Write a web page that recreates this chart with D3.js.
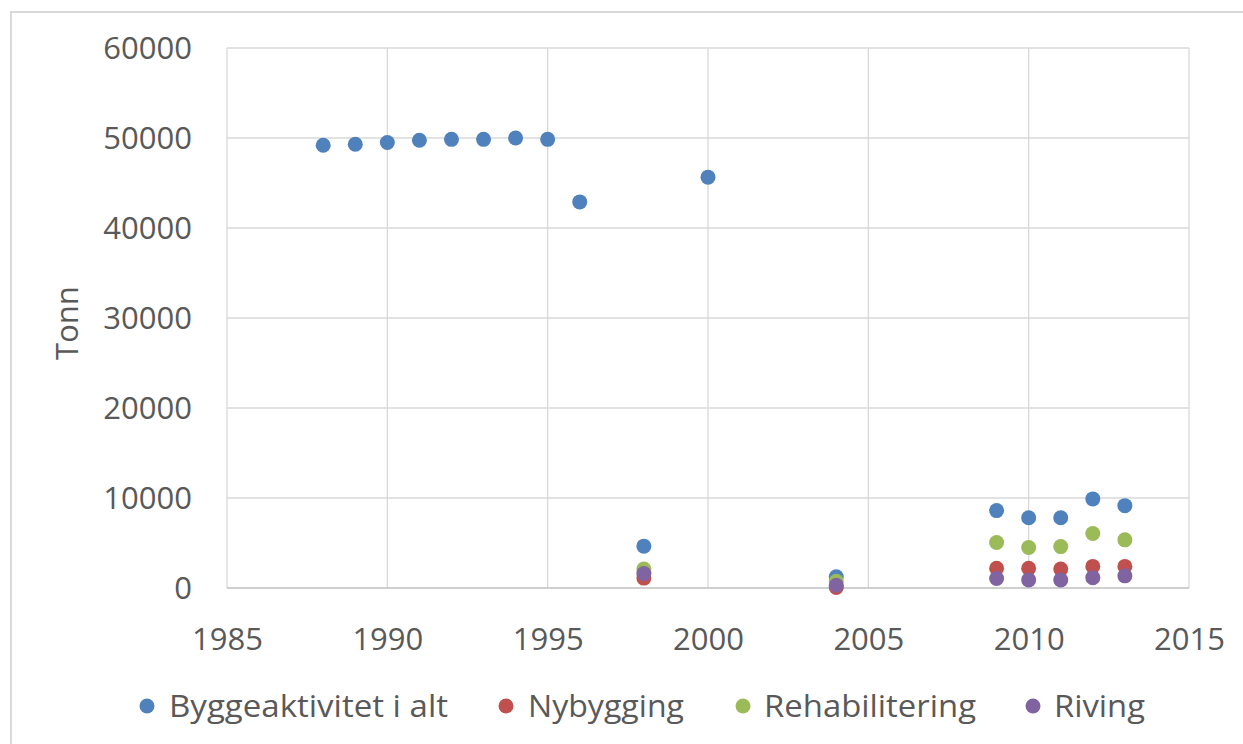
<!DOCTYPE html>
<html>
<head>
<meta charset="utf-8">
<script src="https://cdn.jsdelivr.net/npm/d3@7"></script>
<style>
  html, body { margin: 0; padding: 0; background: #fff; }
  svg { display: block; }
  text { font-family: "Open Sans", "Noto Sans", sans-serif; fill: #595959; }
</style>
</head>
<body>
<svg id="chart" width="1243" height="744"></svg>
<script>
const seriesNames = ["Byggeaktivitet i alt", "Nybygging", "Rehabilitering", "Riving"];
const seriesColors = ["#4F81BD", "#C0504D", "#9BBB59", "#8064A2"];

const totalYears = [1988, 1989, 1990, 1991, 1992, 1993, 1994, 1995, 1996, 1998, 2000, 2004, 2009, 2010, 2011, 2012, 2013];
const totalValues = [49200, 49300, 49500, 49750, 49850, 49850, 50000, 49850, 42900, 4650, 45650, 1250, 8600, 7800, 7800, 9900, 9150];

const subYears = [1998, 2004, 2009, 2010, 2011, 2012, 2013];
const nybyggingValues = [1100, 50, 2200, 2200, 2100, 2400, 2400];
const rehabValues = [2100, 750, 5050, 4500, 4600, 6050, 5350];
const rivingValues = [1600, 300, 1050, 900, 900, 1150, 1350];

const xTicks = [1985, 1990, 1995, 2000, 2005, 2010, 2015];
const yTicks = [0, 10000, 20000, 30000, 40000, 50000, 60000];
const yTitle = "Tonn";

const svg = d3.select("#chart");

// outer chart border
svg.append("rect").attr("x", 11).attr("y", 12).attr("width", 1250).attr("height", 760)
  .attr("fill", "none").attr("stroke", "#d9d9d9").attr("stroke-width", 2);

const pLeft = 227, pRight = 1189, pTop = 48, pBottom = 588;
const x = d3.scaleLinear().domain([1985, 2015]).range([pLeft, pRight]);
const y = d3.scaleLinear().domain([0, 60000]).range([pBottom, pTop]);

// gridlines
const g = svg.append("g");
g.selectAll("line.hg").data(yTicks.filter(d => d > 0)).join("line")
  .attr("x1", pLeft).attr("x2", pRight)
  .attr("y1", d => y(d)).attr("y2", d => y(d))
  .attr("stroke", "#d9d9d9").attr("stroke-width", 1.3);
g.selectAll("line.vg").data(xTicks).join("line")
  .attr("x1", d => x(d)).attr("x2", d => x(d))
  .attr("y1", pTop).attr("y2", pBottom)
  .attr("stroke", "#d9d9d9").attr("stroke-width", 1.3);
g.append("line").attr("x1", pLeft).attr("x2", pRight).attr("y1", y(0)).attr("y2", y(0))
  .attr("stroke", "#bfbfbf").attr("stroke-width", 1.3);

// axes labels via d3 axes
const yAxis = d3.axisLeft(y).tickValues(yTicks).tickSize(0).tickPadding(0).tickFormat(d3.format("d"));
const ya = svg.append("g").attr("transform", `translate(192,0)`).call(yAxis);
ya.select(".domain").remove();
ya.selectAll("text").attr("font-size", 31).attr("fill", "#595959")
  .attr("font-family", "Open Sans").attr("dy", "0.35em").attr("x", 0);

const xAxis = d3.axisBottom(x).tickValues(xTicks).tickSize(0).tickPadding(0).tickFormat(d3.format("d"));
const xa = svg.append("g").attr("transform", `translate(0,627)`).call(xAxis);
xa.select(".domain").remove();
xa.selectAll("text").attr("font-size", 31).attr("fill", "#595959")
  .attr("font-family", "Open Sans").attr("dy", "0.75em").attr("y", 0);

// y title
svg.append("text").attr("transform", "translate(78,323) rotate(-90)")
  .attr("text-anchor", "middle").attr("font-size", 31).text(yTitle);

// points
const seriesData = [
  totalYears.map((yr, i) => ({ x: yr, v: totalValues[i] })),
  subYears.map((yr, i) => ({ x: yr, v: nybyggingValues[i] })),
  subYears.map((yr, i) => ({ x: yr, v: rehabValues[i] })),
  subYears.map((yr, i) => ({ x: yr, v: rivingValues[i] }))
];
seriesData.forEach((data, si) => {
  svg.append("g").selectAll("circle").data(data).join("circle")
    .attr("cx", d => x(d.x)).attr("cy", d => y(d.v)).attr("r", 7.5)
    .attr("fill", seriesColors[si]);
});

// legend
const legendCircleX = [147, 506, 743, 1033];
const legendTextX = [169, 528, 764, 1054];
const legendTextW = [279, 156, 212, 91];
const lg = svg.append("g");
seriesNames.forEach((name, i) => {
  lg.append("circle").attr("cx", legendCircleX[i]).attr("cy", 706).attr("r", 7.5).attr("fill", seriesColors[i]);
  lg.append("text").attr("x", legendTextX[i]).attr("y", 717).attr("font-size", 31)
    .attr("textLength", legendTextW[i]).attr("lengthAdjust", "spacingAndGlyphs").text(name);
});
</script>
</body>
</html>
